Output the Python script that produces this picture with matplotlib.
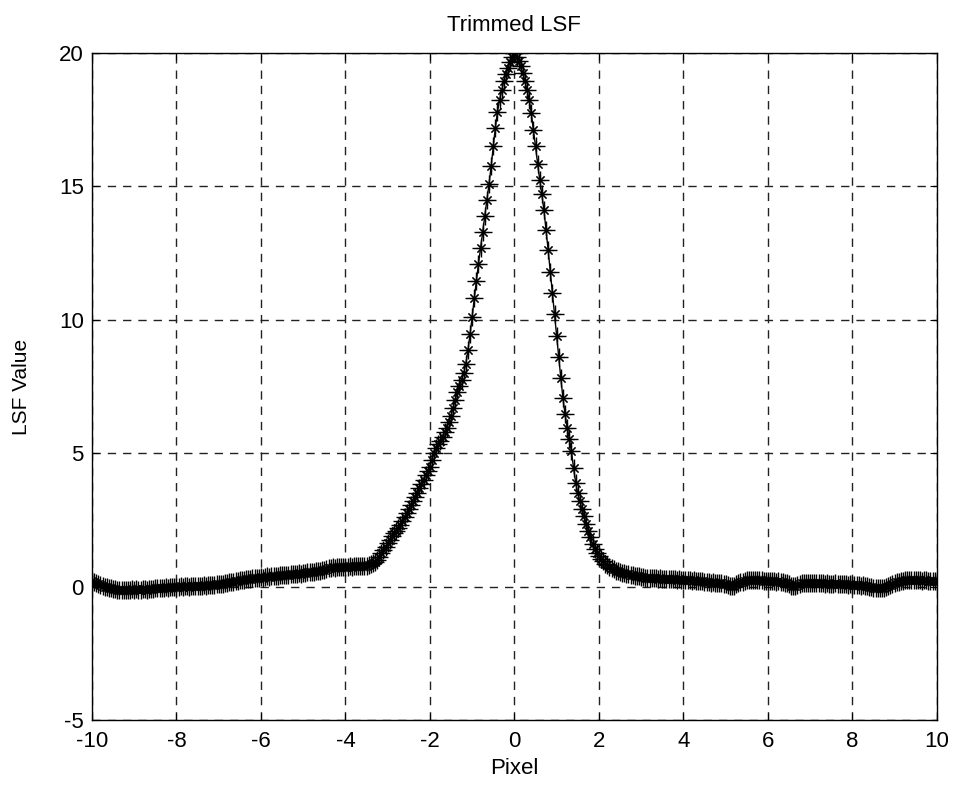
import matplotlib

matplotlib.use("Agg")
import matplotlib.pyplot as plt
import numpy as np

plt.rcParams["font.family"] = ["Liberation Sans", "DejaVu Sans"]
plt.rcParams["axes.unicode_minus"] = False

# LSF samples, 0.05 pixel step from -10 to 10
lsf = [
    # -10.00 .. -4.05
    0.22, 0.18, 0.15, 0.10, 0.06, 0.03, 0.00, -0.03, -0.05, -0.07,
    -0.08, -0.10, -0.11, -0.12, -0.11, -0.12, -0.13, -0.11, -0.12, -0.10,
    -0.11, -0.10, -0.12, -0.11, -0.09, -0.10, -0.11, -0.09, -0.10, -0.08,
    -0.06, -0.05, -0.07, -0.04, -0.05, -0.03, -0.04, -0.02, -0.03, -0.01,
    0.00, -0.01, 0.01, 0.00, 0.02, 0.01, 0.00, 0.02, 0.01, 0.03,
    0.02, 0.04, 0.03, 0.05, 0.04, 0.06, 0.05, 0.07, 0.06, 0.08,
    0.09, 0.11, 0.10, 0.13, 0.14, 0.16, 0.17, 0.19, 0.21, 0.22,
    0.24, 0.26, 0.25, 0.28, 0.30, 0.29, 0.31, 0.33, 0.32, 0.34,
    0.35, 0.34, 0.36, 0.38, 0.37, 0.39, 0.40, 0.39, 0.41, 0.43,
    0.42, 0.44, 0.45, 0.44, 0.46, 0.48, 0.47, 0.49, 0.50, 0.49,
    0.51, 0.52, 0.53, 0.55, 0.54, 0.56, 0.58, 0.57, 0.59, 0.61,
    0.63, 0.65, 0.68, 0.70, 0.72, 0.71, 0.73, 0.74, 0.72, 0.74,
    # -4.00 .. -0.05
    0.73, 0.74, 0.76, 0.75, 0.76, 0.77, 0.76, 0.77, 0.78, 0.77,
    0.78, 0.80, 0.83, 0.87, 0.92, 1.00, 1.12, 1.25, 1.38, 1.50,
    1.65, 1.76, 1.88, 2.00, 2.10, 2.20, 2.30, 2.45, 2.60, 2.75,
    2.90, 3.05, 3.20, 3.35, 3.50, 3.70, 3.85, 4.00, 4.20, 4.35,
    4.50, 4.75, 5.00, 5.20, 5.33, 5.45, 5.60, 5.78, 5.95, 6.15,
    6.40, 6.70, 7.00, 7.30, 7.50, 7.75, 8.00, 8.35, 8.85, 9.45,
    10.10, 10.80, 11.45, 12.10, 12.70, 13.30, 13.90, 14.50, 15.10, 15.75,
    16.50, 17.20, 17.80, 18.25, 18.60, 18.95, 19.20, 19.45, 19.65, 19.85,
    # 0.00 .. 3.95
    20.00, 19.85, 19.70, 19.50, 19.25, 18.95, 18.60, 18.25, 17.75, 17.10,
    16.50, 15.85, 15.25, 14.70, 14.10, 13.35, 12.60, 11.80, 11.00, 10.20,
    9.40, 8.60, 7.80, 7.05, 6.45, 5.95, 5.55, 5.07, 4.45, 3.90,
    3.50, 3.20, 2.90, 2.65, 2.35, 2.10, 1.85, 1.60, 1.42, 1.27,
    1.14, 1.02, 0.94, 0.86, 0.80, 0.74, 0.68, 0.64, 0.60, 0.57,
    0.54, 0.52, 0.50, 0.48, 0.46, 0.44, 0.42, 0.40, 0.39, 0.38,
    0.37, 0.35, 0.34, 0.33, 0.32, 0.33, 0.31, 0.32, 0.30, 0.31,
    0.29, 0.30, 0.28, 0.29, 0.27, 0.29, 0.28, 0.26, 0.27, 0.25,
    # 4.00 .. 10.00
    0.26, 0.24, 0.25, 0.23, 0.22, 0.24, 0.21, 0.22, 0.20, 0.21,
    0.18, 0.16, 0.17, 0.15, 0.16, 0.14, 0.15, 0.13, 0.12, 0.10,
    0.08, 0.05, 0.03, 0.02, 0.04, 0.08, 0.12, 0.16, 0.19, 0.21,
    0.23, 0.24, 0.25, 0.26, 0.25, 0.26, 0.24, 0.23, 0.22, 0.21,
    0.22, 0.21, 0.20, 0.21, 0.19, 0.20, 0.18, 0.17, 0.15, 0.12,
    0.08, 0.04, 0.02, 0.03, 0.06, 0.09, 0.12, 0.14, 0.15, 0.14,
    0.15, 0.14, 0.13, 0.14, 0.12, 0.13, 0.12, 0.11, 0.12, 0.10,
    0.11, 0.10, 0.12, 0.11, 0.09, 0.10, 0.08, 0.09, 0.07, 0.08,
    0.07, 0.06, 0.07, 0.05, 0.04, 0.05, 0.03, 0.01, 0.00, -0.02,
    -0.04, -0.05, -0.06, -0.07, -0.06, -0.04, 0.00, 0.03, 0.07, 0.10,
    0.13, 0.16, 0.18, 0.20, 0.22, 0.24, 0.25, 0.26, 0.25, 0.24,
    0.25, 0.24, 0.23, 0.22, 0.24, 0.23, 0.21, 0.22, 0.20, 0.21,
    0.20,
]
x_range = (-10, 10)
xticks = list(range(-10, 11, 2))
yticks = [-5, 0, 5, 10, 15, 20]

pixel = np.linspace(x_range[0], x_range[1], len(lsf))

fig = plt.figure(figsize=(9.54, 7.91), dpi=100)
ax = fig.add_axes([0.0964, 0.0898, 0.8856, 0.8432])

ax.plot(pixel, lsf, "-", color="black", lw=1.0, marker=(8, 2, 0), ms=8, mew=0.8)
ax.plot(pixel, lsf, "+", color="black", ms=13, mew=1.0)

ax.set_xlim(*x_range)
ax.set_ylim(-5, 20)
ax.set_xticks(xticks)
ax.set_yticks(yticks)
ax.grid(True, color="#222222", linestyle=(0, (6, 5)), linewidth=1.0)
ax.tick_params(direction="in", length=5, labelsize=16, top=True, right=True)
ax.tick_params(axis="x", pad=8)
ax.tick_params(axis="y", pad=6)
for s in ax.spines.values():
    s.set_linewidth(1.0)

ax.set_title("Trimmed LSF", fontsize=16, pad=16)
ax.set_xlabel("Pixel", fontsize=16, labelpad=4)
ax.set_ylabel("LSF Value", fontsize=15)
ax.yaxis.set_label_coords(-0.072, 0.5)

fig.savefig("out.png", dpi=100)
